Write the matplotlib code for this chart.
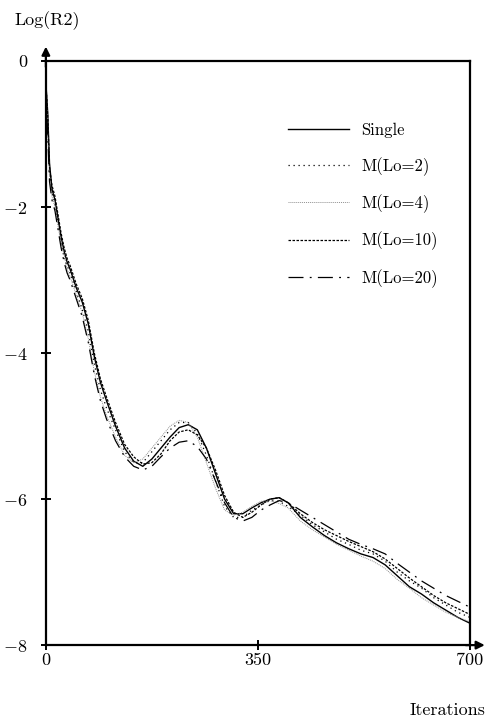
import numpy as np
import matplotlib
matplotlib.use("Agg")
import matplotlib.pyplot as plt

plt.rcParams['font.family'] = ['cmr10', 'DejaVu Serif']
plt.rcParams['mathtext.fontset'] = 'cm'

# data
iters = [0, 3, 6, 10, 15, 20, 25, 30, 35, 40, 50, 60, 70, 80, 90, 100,
         115, 130, 145, 160, 175, 190, 205, 220, 235, 250, 265, 280, 295, 310,
         325, 340, 355, 370, 385, 400, 420, 440, 460, 480, 500, 520, 540, 560,
         580, 600, 620, 640, 660, 680, 700]

single = [-0.3, -0.7, -1.4, -1.75, -1.9, -2.15, -2.4, -2.6, -2.75, -2.85,
          -3.1, -3.3, -3.6, -4.05, -4.4, -4.65,
          -5.0, -5.3, -5.48, -5.55, -5.45, -5.3, -5.15, -5.02, -4.98, -5.05,
          -5.3, -5.65, -6.0, -6.2, -6.2, -6.12, -6.05, -6.0, -5.98, -6.05,
          -6.25, -6.38, -6.5, -6.6, -6.68, -6.75, -6.8, -6.9, -7.05, -7.2,
          -7.3, -7.42, -7.52, -7.62, -7.7]
lo2 = [-0.25, -0.8, -1.5, -1.8, -1.95, -2.2, -2.45, -2.7, -2.8, -2.9,
       -3.15, -3.4, -3.7, -4.15, -4.5, -4.75,
       -5.05, -5.35, -5.5, -5.5, -5.35, -5.2, -5.05, -4.95, -4.95, -5.1,
       -5.4, -5.75, -6.1, -6.25, -6.25, -6.15, -6.08, -6.02, -6.03, -6.1,
       -6.22, -6.35, -6.45, -6.55, -6.62, -6.7, -6.75, -6.85, -7.0, -7.12,
       -7.22, -7.35, -7.45, -7.55, -7.62]
lo4 = [-0.35, -0.9, -1.6, -1.85, -2.0, -2.25, -2.5, -2.65, -2.85, -2.95,
       -3.2, -3.45, -3.8, -4.25, -4.6, -4.85,
       -5.15, -5.4, -5.5, -5.45, -5.3, -5.15, -5.0, -4.92, -4.95, -5.15,
       -5.5, -5.85, -6.15, -6.22, -6.18, -6.1, -6.03, -6.02, -6.06, -6.12,
       -6.3, -6.42, -6.52, -6.62, -6.7, -6.78, -6.85, -6.95, -7.1, -7.22,
       -7.35, -7.45, -7.55, -7.62, -7.68]
lo10 = [-0.3, -0.75, -1.45, -1.7, -1.85, -2.1, -2.35, -2.55, -2.7, -2.8,
        -3.05, -3.25, -3.55, -4.0, -4.35, -4.6,
        -4.95, -5.25, -5.42, -5.52, -5.5, -5.38, -5.2, -5.08, -5.05, -5.12,
        -5.3, -5.6, -5.95, -6.18, -6.25, -6.18, -6.08, -6.0, -5.98, -6.05,
        -6.2, -6.32, -6.42, -6.5, -6.58, -6.65, -6.72, -6.82, -6.95, -7.08,
        -7.2, -7.32, -7.42, -7.5, -7.58]
lo20 = [-0.4, -1.0, -1.65, -1.9, -2.05, -2.3, -2.55, -2.75, -2.9, -3.0,
        -3.25, -3.5, -3.85, -4.3, -4.65, -4.9,
        -5.2, -5.42, -5.55, -5.6, -5.55, -5.42, -5.3, -5.22, -5.2, -5.28,
        -5.45, -5.75, -6.05, -6.25, -6.3, -6.25, -6.15, -6.08, -6.02, -6.05,
        -6.15, -6.25, -6.35, -6.45, -6.55, -6.62, -6.68, -6.75, -6.88, -7.0,
        -7.12, -7.22, -7.32, -7.4, -7.48]

labels = ['Single', 'M(Lo=2)', 'M(Lo=4)', 'M(Lo=10)', 'M(Lo=20)']
xticks = [0, 350, 700]
yticks = [0, -2, -4, -6, -8]

fig = plt.figure(figsize=(4.88, 7.2), dpi=100)
ax = fig.add_axes([0.094, 0.104, 0.869, 0.811])

ax.plot(iters, single, color='black', lw=1.0, label=labels[0])
ax.plot(iters, lo2, color='black', lw=0.9, linestyle=(0, (1, 3)), label=labels[1])
ax.plot(iters, lo4, color='#909090', lw=0.7, linestyle=(0, (1, 1)), label=labels[2])
ax.plot(iters, lo10, color='black', lw=0.9, linestyle=(0, (2, 1.2)), label=labels[3])
ax.plot(iters, lo20, color='black', lw=0.9, linestyle=(0, (12, 5, 1.5, 5)), label=labels[4])

ax.set_xlim(0, 700)
ax.set_ylim(-8, 0)
for s in ax.spines.values():
    s.set_linewidth(1.6)

ax.set_xticks(xticks)
ax.set_xticklabels([str(v) for v in xticks])
ax.set_yticks(yticks)
ax.set_yticklabels(['0' if v == 0 else r'$-%d$' % abs(v) for v in yticks])
ax.tick_params(direction='inout', length=7, width=1.4, labelsize=13, pad=2)
ax.tick_params(axis='y', pad=10)

# arrows on the axes
ax.annotate('', xy=(0, 1.025), xytext=(0, 0.99), xycoords='axes fraction',
            arrowprops=dict(arrowstyle='-|>', color='black', lw=1.6,
                            mutation_scale=12, shrinkA=0, shrinkB=0))
ax.annotate('', xy=(1.035, 0), xytext=(0.99, 0), xycoords='axes fraction',
            arrowprops=dict(arrowstyle='-|>', color='black', lw=1.6,
                            mutation_scale=12, shrinkA=0, shrinkB=0))

fig.text(0.03, 0.972, 'Log(R2)', fontsize=13, va='center', ha='left')
fig.text(0.995, 0.013, 'Iterations', fontsize=13, va='center', ha='right')

ax.legend(loc='upper left', bbox_to_anchor=(0.535, 0.92), frameon=False,
          fontsize=12, handlelength=3.7, handletextpad=0.7, labelspacing=1.12)

fig.savefig('out.png', dpi=100)
